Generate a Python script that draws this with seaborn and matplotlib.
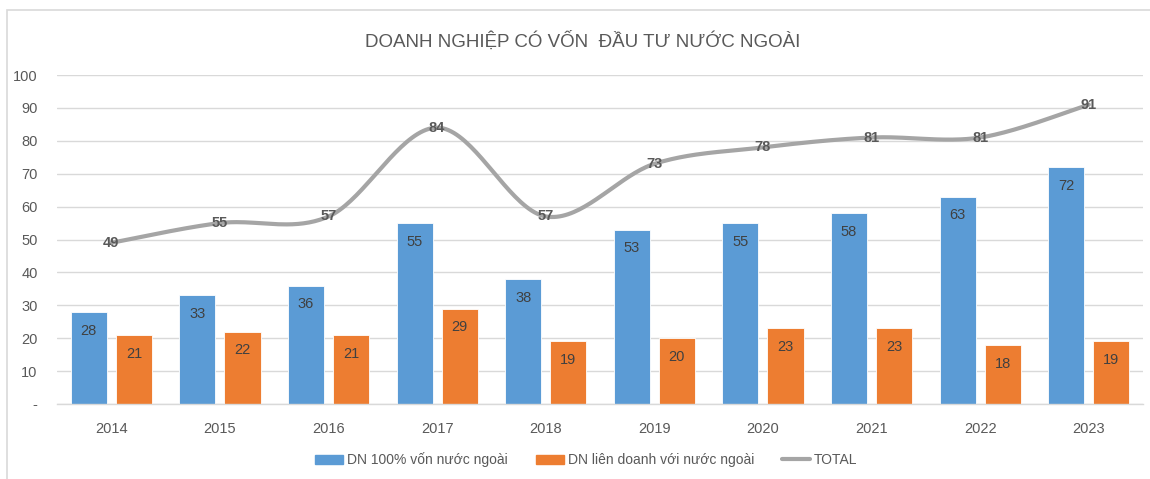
import numpy as np
import pandas as pd
import matplotlib
matplotlib.use("Agg")
import matplotlib.pyplot as plt
import seaborn as sns
from matplotlib.patches import Rectangle
from matplotlib.lines import Line2D

years = ["2014", "2015", "2016", "2017", "2018", "2019", "2020", "2021", "2022", "2023"]
dn_100 = [28, 33, 36, 55, 38, 53, 55, 58, 63, 72]
dn_lien_doanh = [21, 22, 21, 29, 19, 20, 23, 23, 18, 19]
total = [49, 55, 57, 84, 57, 73, 78, 81, 81, 91]
series_names = ["DN 100% vốn nước ngoài", "DN liên doanh với nước ngoài"]
title = "DOANH NGHIỆP CÓ VỐN  ĐẦU TƯ NƯỚC NGOÀI"

BLUE = "#5B9BD5"
ORANGE = "#ED7D31"
GREY = "#A5A5A5"
TXT = "#595959"


def smooth(xs, ys, n=40):
    # excel-like smoothed line: catmull-rom through the points as cubic beziers
    p = np.column_stack([xs, ys]).astype(float)
    out = []
    for i in range(len(p) - 1):
        p0 = p[i - 1] if i > 0 else p[i]
        p1, p2 = p[i], p[i + 1]
        p3 = p[i + 2] if i + 2 < len(p) else p[i + 1]
        c1 = p1 + (p2 - p0) / 6
        c2 = p2 - (p3 - p1) / 6
        t = np.linspace(0, 1, n)[:, None]
        seg = (1 - t) ** 3 * p1 + 3 * (1 - t) ** 2 * t * c1 + 3 * (1 - t) * t ** 2 * c2 + t ** 3 * p2
        out.append(seg if i == 0 else seg[1:])
    out = np.vstack(out)
    return out[:, 0], out[:, 1]


df = pd.DataFrame({
    "Year": years * 2,
    "Value": dn_100 + dn_lien_doanh,
    "Type": [series_names[0]] * len(years) + [series_names[1]] * len(years),
})

sns.set_theme(style="white")
plt.rcParams["font.family"] = ["Liberation Sans", "DejaVu Sans"]

fig = plt.figure(figsize=(11.5, 4.79), dpi=100)
ax = fig.add_axes([0.0496, 0.1566, 0.9444, 0.6868])

sns.barplot(data=df, x="Year", y="Value", hue="Type", order=years,
            hue_order=series_names, palette=[BLUE, ORANGE], saturation=1,
            width=0.83, gap=0.2, edgecolor="white", linewidth=0.6,
            legend=False, ax=ax)

for cont in ax.containers:
    for bar in cont:
        h = bar.get_height()
        ax.annotate(f"{h:.0f}", (bar.get_x() + bar.get_width() / 2, h),
                    xytext=(0, -13.5), textcoords="offset points",
                    ha="center", va="center", fontsize=10.5, color="#404040")

xs = np.arange(len(years))
sx, sy = smooth(xs, total)
ax.plot(sx, sy, color=GREY, lw=3, solid_capstyle="round", zorder=4)
for x, v in zip(xs, total):
    ax.text(x, v, f"{v}", ha="center", va="center", fontsize=10.5,
            fontweight="bold", color="#595959", zorder=5)

ax.set_xlim(-0.5, len(years) - 0.5)
ax.set_ylim(0, 100)
ax.set_yticks(range(0, 101, 10))
ax.set_yticklabels(["-"] + [str(v) for v in range(10, 101, 10)])
ax.set_xlabel("")
ax.set_ylabel("")
ax.grid(True, axis="y", color="#D9D9D9", lw=1)
ax.set_axisbelow(True)
for s in ["top", "right", "left"]:
    ax.spines[s].set_visible(False)
ax.spines["bottom"].set_color("#D9D9D9")
ax.spines["bottom"].set_linewidth(1)
ax.tick_params(axis="both", length=0, labelsize=10.5, colors=TXT)
ax.tick_params(axis="x", pad=13)
ax.tick_params(axis="y", pad=14)

fig.text(0.507, 0.914, title, ha="center", va="center", fontsize=13.5, color=TXT)

handles = [Rectangle((0, 0), 1, 1, color=BLUE), Rectangle((0, 0), 1, 1, color=ORANGE),
           Line2D([0], [0], color=GREY, lw=3)]
fig.legend(handles, series_names + ["TOTAL"], loc="center", bbox_to_anchor=(0.51, 0.04),
           ncol=3, frameon=False, labelcolor=TXT, handlelength=2.0,
           handleheight=0.7, columnspacing=2.0, handletextpad=0.3, fontsize=10)

fig.patches.append(Rectangle((7 / 1150, -0.01), 1.1, 1 - 10 / 479 + 0.01,
                             transform=fig.transFigure, fill=False,
                             edgecolor="#D9D9D9", lw=1.2))

fig.savefig("out.png", dpi=100)
